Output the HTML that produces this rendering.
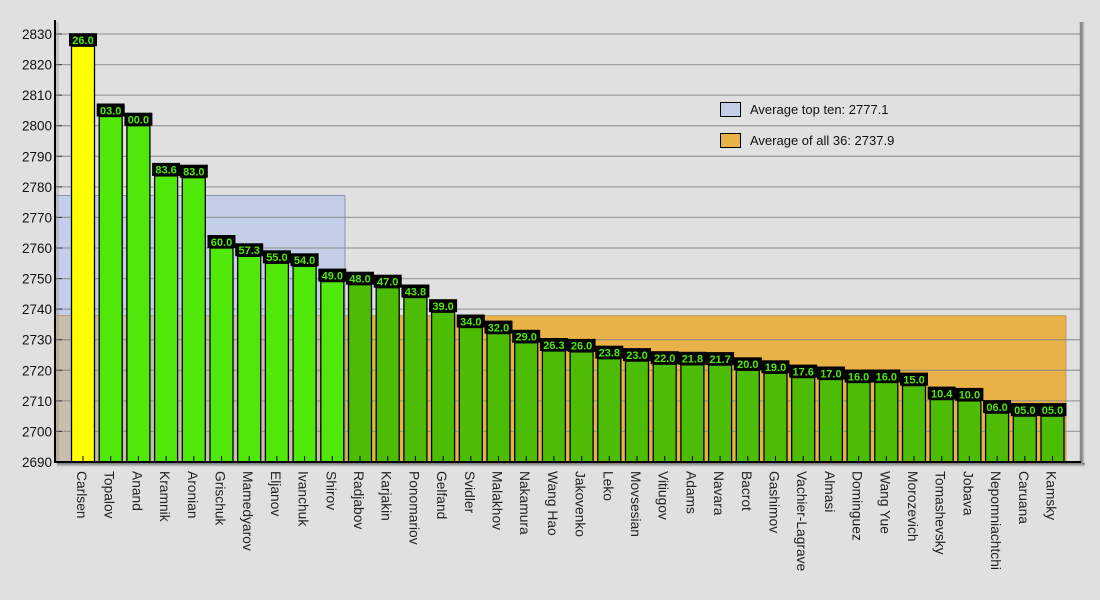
<!DOCTYPE html>
<html><head><meta charset="utf-8"><style>
html,body{margin:0;padding:0;background:#e0e0e0;}
svg{display:block;font-family:"Liberation Sans",Arial,sans-serif;}
</style></head><body>
<svg width="1100" height="600" viewBox="0 0 1100 600" xmlns="http://www.w3.org/2000/svg">
<defs>
<linearGradient id="sh" x1="0" x2="1" y1="0" y2="0"><stop offset="0" stop-color="#777"/><stop offset="1" stop-color="#e0e0e0"/></linearGradient>
<linearGradient id="shb" x1="0" x2="0" y1="0" y2="1"><stop offset="0" stop-color="#777"/><stop offset="1" stop-color="#e0e0e0"/></linearGradient>
</defs>
<rect width="1100" height="600" fill="#e0e0e0"/>
<rect x="55" y="315.6" width="1011" height="146.4" fill="#e9b248"/>
<rect x="55" y="195.5" width="290" height="120.1" fill="#c3cfe8"/>
<rect x="55" y="315.6" width="290" height="146.4" fill="#c8bea9"/>
<line x1="55" y1="195.5" x2="345" y2="195.5" stroke="#8a94aa" stroke-width="1"/>
<line x1="345" y1="195.5" x2="345" y2="462" stroke="#8a94aa" stroke-width="1"/>
<line x1="55" y1="315.6" x2="1066" y2="315.6" stroke="#a08040" stroke-width="1" opacity="0.6"/>
<line x1="1066" y1="315.6" x2="1066" y2="462" stroke="#a08040" stroke-width="1" opacity="0.6"/>
<g stroke="#888" stroke-width="1.3" opacity="0.75">
<line x1="55" x2="1080" y1="431.4" y2="431.4"/><line x1="55" x2="1080" y1="400.9" y2="400.9"/>
<line x1="55" x2="1080" y1="370.3" y2="370.3"/><line x1="55" x2="1080" y1="339.7" y2="339.7"/>
<line x1="55" x2="1080" y1="309.1" y2="309.1"/><line x1="55" x2="1080" y1="278.6" y2="278.6"/>
<line x1="55" x2="1080" y1="248" y2="248"/><line x1="55" x2="1080" y1="217.4" y2="217.4"/>
<line x1="55" x2="1080" y1="186.9" y2="186.9"/><line x1="55" x2="1080" y1="156.3" y2="156.3"/>
<line x1="55" x2="1080" y1="125.7" y2="125.7"/><line x1="55" x2="1080" y1="95.1" y2="95.1"/>
<line x1="55" x2="1080" y1="64.6" y2="64.6"/><line x1="55" x2="1080" y1="34" y2="34"/>
</g>
<rect x="1081" y="22" width="4" height="444" fill="url(#sh)"/>
<line x1="1080.5" y1="22" x2="1080.5" y2="462" stroke="#888" stroke-width="1.5"/>
<rect x="720.5" y="102.5" width="20" height="14" fill="#c3cfe8" stroke="#000"/>
<rect x="720.5" y="133.5" width="20" height="14" fill="#e9b248" stroke="#000"/>
<text x="750" y="114" font-size="13" fill="#111">Average top ten: 2777.1</text>
<text x="750" y="145" font-size="13" fill="#111">Average of all 36: 2737.9</text>
<g stroke="#000" stroke-width="1.3">
<rect x="71.5" y="46.2" width="23" height="415.8" fill="#ffff00"/>
<rect x="99.2" y="116.5" width="23" height="345.5" fill="#50e808"/>
<rect x="126.9" y="125.7" width="23" height="336.3" fill="#50e808"/>
<rect x="154.6" y="175.9" width="23" height="286.1" fill="#50e808"/>
<rect x="182.3" y="177.7" width="23" height="284.3" fill="#50e808"/>
<rect x="210" y="248" width="23" height="214" fill="#50e808"/>
<rect x="237.7" y="256.3" width="23" height="205.7" fill="#50e808"/>
<rect x="265.4" y="263.3" width="23" height="198.7" fill="#50e808"/>
<rect x="293.1" y="266.3" width="23" height="195.7" fill="#50e808"/>
<rect x="320.8" y="281.6" width="23" height="180.4" fill="#50e808"/>
<rect x="348.5" y="284.7" width="23" height="177.3" fill="#4cbc04"/>
<rect x="376.2" y="287.7" width="23" height="174.3" fill="#4cbc04"/>
<rect x="403.9" y="297.5" width="23" height="164.5" fill="#4cbc04"/>
<rect x="431.6" y="312.2" width="23" height="149.8" fill="#4cbc04"/>
<rect x="459.3" y="327.5" width="23" height="134.5" fill="#4cbc04"/>
<rect x="487" y="333.6" width="23" height="128.4" fill="#4cbc04"/>
<rect x="514.7" y="342.8" width="23" height="119.2" fill="#4cbc04"/>
<rect x="542.4" y="351" width="23" height="111" fill="#4cbc04"/>
<rect x="570.1" y="351.9" width="23" height="110.1" fill="#4cbc04"/>
<rect x="597.8" y="358.7" width="23" height="103.3" fill="#4cbc04"/>
<rect x="625.5" y="361.1" width="23" height="100.9" fill="#4cbc04"/>
<rect x="653.2" y="364.2" width="23" height="97.8" fill="#4cbc04"/>
<rect x="680.9" y="364.8" width="23" height="97.2" fill="#4cbc04"/>
<rect x="708.6" y="365.1" width="23" height="96.9" fill="#4cbc04"/>
<rect x="736.3" y="370.3" width="23" height="91.7" fill="#4cbc04"/>
<rect x="764" y="373.3" width="23" height="88.7" fill="#4cbc04"/>
<rect x="791.7" y="377.6" width="23" height="84.4" fill="#4cbc04"/>
<rect x="819.4" y="379.5" width="23" height="82.5" fill="#4cbc04"/>
<rect x="847.1" y="382.5" width="23" height="79.5" fill="#4cbc04"/>
<rect x="874.8" y="382.5" width="23" height="79.5" fill="#4cbc04"/>
<rect x="902.5" y="385.6" width="23" height="76.4" fill="#4cbc04"/>
<rect x="930.2" y="399.6" width="23" height="62.4" fill="#4cbc04"/>
<rect x="957.9" y="400.9" width="23" height="61.1" fill="#4cbc04"/>
<rect x="985.6" y="413.1" width="23" height="48.9" fill="#4cbc04"/>
<rect x="1013.3" y="416.1" width="23" height="45.9" fill="#4cbc04"/>
<rect x="1041" y="416.1" width="23" height="45.9" fill="#4cbc04"/>
</g>
<g stroke="#000" stroke-width="1">
<path d="M83 456v6M110.7 456v6M138.4 456v6M166.1 456v6M193.8 456v6M221.5 456v6M249.2 456v6M276.9 456v6M304.6 456v6M332.3 456v6M360 456v6M387.7 456v6M415.4 456v6M443.1 456v6M470.8 456v6M498.5 456v6M526.2 456v6M553.9 456v6M581.6 456v6M609.3 456v6M637 456v6M664.7 456v6M692.4 456v6M720.1 456v6M747.8 456v6M775.5 456v6M803.2 456v6M830.9 456v6M858.6 456v6M886.3 456v6M914 456v6M941.7 456v6M969.4 456v6M997.1 456v6M1024.8 456v6M1052.5 456v6"/>
</g>
<g stroke="#333" stroke-width="1">
<path d="M55 462h7M55 431.4h7M55 400.9h7M55 370.3h7M55 339.7h7M55 309.1h7M55 278.6h7M55 248h7M55 217.4h7M55 186.9h7M55 156.3h7M55 125.7h7M55 95.1h7M55 64.6h7M55 34h7"/>
</g>
<g fill="#000">
<rect x="69" y="33.2" width="28" height="13"/><rect x="96.7" y="103.5" width="28" height="13"/><rect x="124.4" y="112.7" width="28" height="13"/><rect x="152.1" y="162.9" width="28" height="13"/><rect x="179.8" y="164.7" width="28" height="13"/><rect x="207.5" y="235" width="28" height="13"/><rect x="235.2" y="243.3" width="28" height="13"/><rect x="262.9" y="250.3" width="28" height="13"/><rect x="290.6" y="253.3" width="28" height="13"/><rect x="318.3" y="268.6" width="28" height="13"/><rect x="346" y="271.7" width="28" height="13"/><rect x="373.7" y="274.7" width="28" height="13"/><rect x="401.4" y="284.5" width="28" height="13"/><rect x="429.1" y="299.2" width="28" height="13"/><rect x="456.8" y="314.5" width="28" height="13"/><rect x="484.5" y="320.6" width="28" height="13"/><rect x="512.2" y="329.8" width="28" height="13"/><rect x="539.9" y="338" width="28" height="13"/><rect x="567.6" y="338.9" width="28" height="13"/><rect x="595.3" y="345.7" width="28" height="13"/><rect x="623" y="348.1" width="28" height="13"/><rect x="650.7" y="351.2" width="28" height="13"/><rect x="678.4" y="351.8" width="28" height="13"/><rect x="706.1" y="352.1" width="28" height="13"/><rect x="733.8" y="357.3" width="28" height="13"/><rect x="761.5" y="360.3" width="28" height="13"/><rect x="789.2" y="364.6" width="28" height="13"/><rect x="816.9" y="366.5" width="28" height="13"/><rect x="844.6" y="369.5" width="28" height="13"/><rect x="872.3" y="369.5" width="28" height="13"/><rect x="900" y="372.6" width="28" height="13"/><rect x="927.7" y="386.6" width="28" height="13"/><rect x="955.4" y="387.9" width="28" height="13"/><rect x="983.1" y="400.1" width="28" height="13"/><rect x="1010.8" y="403.1" width="28" height="13"/><rect x="1038.5" y="403.1" width="28" height="13"/>
</g>
<g fill="#50e808" font-size="11" font-weight="bold" text-anchor="middle">
<text x="83" y="44">26.0</text><text x="110.7" y="114.3">03.0</text><text x="138.4" y="123.5">00.0</text><text x="166.1" y="173.7">83.6</text><text x="193.8" y="175.5">83.0</text><text x="221.5" y="245.8">60.0</text><text x="249.2" y="254.1">57.3</text><text x="276.9" y="261.1">55.0</text><text x="304.6" y="264.1">54.0</text><text x="332.3" y="279.4">49.0</text><text x="360" y="282.5">48.0</text><text x="387.7" y="285.5">47.0</text><text x="415.4" y="295.3">43.8</text><text x="443.1" y="310">39.0</text><text x="470.8" y="325.3">34.0</text><text x="498.5" y="331.4">32.0</text><text x="526.2" y="340.6">29.0</text><text x="553.9" y="348.8">26.3</text><text x="581.6" y="349.7">26.0</text><text x="609.3" y="356.5">23.8</text><text x="637" y="358.9">23.0</text><text x="664.7" y="362">22.0</text><text x="692.4" y="362.6">21.8</text><text x="720.1" y="362.9">21.7</text><text x="747.8" y="368.1">20.0</text><text x="775.5" y="371.1">19.0</text><text x="803.2" y="375.4">17.6</text><text x="830.9" y="377.3">17.0</text><text x="858.6" y="380.3">16.0</text><text x="886.3" y="380.3">16.0</text><text x="914" y="383.4">15.0</text><text x="941.7" y="397.4">10.4</text><text x="969.4" y="398.7">10.0</text><text x="997.1" y="410.9">06.0</text><text x="1024.8" y="413.9">05.0</text><text x="1052.5" y="413.9">05.0</text>
</g>
<rect x="57" y="463" width="1028" height="4" fill="url(#shb)"/>
<rect x="56" y="22" width="3" height="441" fill="#999" opacity="0.4"/>
<line x1="55" y1="20" x2="55" y2="463" stroke="#000" stroke-width="2"/>
<line x1="54" y1="462" x2="1081" y2="462" stroke="#000" stroke-width="2"/>
<g font-size="13.5" fill="#111" text-anchor="end">
<text x="52" y="467">2690</text><text x="52" y="436.4">2700</text><text x="52" y="405.9">2710</text><text x="52" y="375.3">2720</text><text x="52" y="344.7">2730</text><text x="52" y="314.1">2740</text><text x="52" y="283.6">2750</text><text x="52" y="253">2760</text><text x="52" y="222.4">2770</text><text x="52" y="191.9">2780</text><text x="52" y="161.3">2790</text><text x="52" y="130.7">2800</text><text x="52" y="100.1">2810</text><text x="52" y="69.6">2820</text><text x="52" y="39">2830</text>
</g>
<g font-size="13.8" fill="#222">
<text transform="translate(77,471) rotate(90)">Carlsen</text>
<text transform="translate(104.7,471) rotate(90)">Topalov</text>
<text transform="translate(132.4,471) rotate(90)">Anand</text>
<text transform="translate(160.1,471) rotate(90)">Kramnik</text>
<text transform="translate(187.8,471) rotate(90)">Aronian</text>
<text transform="translate(215.5,471) rotate(90)">Grischuk</text>
<text transform="translate(243.2,471) rotate(90)">Mamedyarov</text>
<text transform="translate(270.9,471) rotate(90)">Eljanov</text>
<text transform="translate(298.6,471) rotate(90)">Ivanchuk</text>
<text transform="translate(326.3,471) rotate(90)">Shirov</text>
<text transform="translate(354,471) rotate(90)">Radjabov</text>
<text transform="translate(381.7,471) rotate(90)">Karjakin</text>
<text transform="translate(409.4,471) rotate(90)">Ponomariov</text>
<text transform="translate(437.1,471) rotate(90)">Gelfand</text>
<text transform="translate(464.8,471) rotate(90)">Svidler</text>
<text transform="translate(492.5,471) rotate(90)">Malakhov</text>
<text transform="translate(520.2,471) rotate(90)">Nakamura</text>
<text transform="translate(547.9,471) rotate(90)">Wang Hao</text>
<text transform="translate(575.6,471) rotate(90)">Jakovenko</text>
<text transform="translate(603.3,471) rotate(90)">Leko</text>
<text transform="translate(631,471) rotate(90)">Movsesian</text>
<text transform="translate(658.7,471) rotate(90)">Vitiugov</text>
<text transform="translate(686.4,471) rotate(90)">Adams</text>
<text transform="translate(714.1,471) rotate(90)">Navara</text>
<text transform="translate(741.8,471) rotate(90)">Bacrot</text>
<text transform="translate(769.5,471) rotate(90)">Gashimov</text>
<text transform="translate(797.2,471) rotate(90)">Vachier-Lagrave</text>
<text transform="translate(824.9,471) rotate(90)">Almasi</text>
<text transform="translate(852.6,471) rotate(90)">Dominguez</text>
<text transform="translate(880.3,471) rotate(90)">Wang Yue</text>
<text transform="translate(908,471) rotate(90)">Morozevich</text>
<text transform="translate(935.7,471) rotate(90)">Tomashevsky</text>
<text transform="translate(963.4,471) rotate(90)">Jobava</text>
<text transform="translate(991.1,471) rotate(90)">Nepomniachtchi</text>
<text transform="translate(1018.8,471) rotate(90)">Caruana</text>
<text transform="translate(1046.5,471) rotate(90)">Kamsky</text>
</g>
</svg>
</body></html>
